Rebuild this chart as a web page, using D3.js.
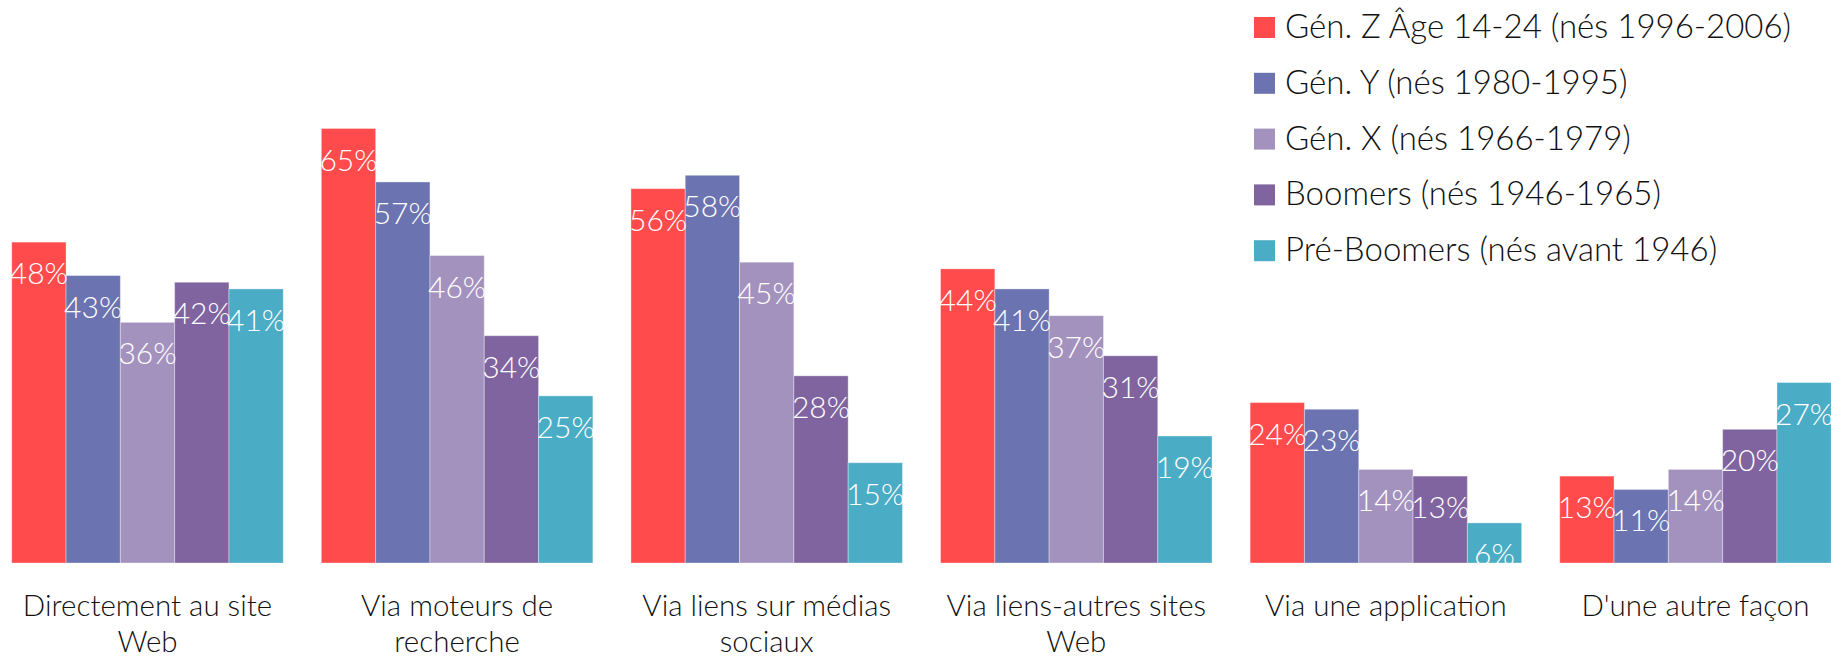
<!DOCTYPE html>
<html>
<head>
<meta charset="utf-8">
<script src="https://cdn.jsdelivr.net/npm/d3@7"></script>
<style>
  body { margin: 0; background: #fff; }
  svg text { font-family: Lato, "Open Sans", sans-serif; font-weight: 300; }
</style>
</head>
<body>
<div id="chart"></div>
<script>
// categories and series
var categories = ["Directement au site Web", "Via moteurs de recherche", "Via liens sur médias sociaux",
                  "Via liens-autres sites Web", "Via une application", "D'une autre façon"];
var seriesNames = ["Gén. Z Âge 14-24 (nés 1996-2006)", "Gén. Y (nés 1980-1995)", "Gén. X (nés 1966-1979)",
                   "Boomers (nés 1946-1965)", "Pré-Boomers (nés avant 1946)"];
var genZ = [48, 65, 56, 44, 24, 13];
var genY = [43, 57, 58, 41, 23, 11];
var genX = [36, 46, 45, 37, 14, 14];
var boomers = [42, 34, 28, 31, 13, 20];
var preBoomers = [41, 25, 15, 19, 6, 27];
var colors = ["#FF4B4B", "#6B74B0", "#A492BE", "#8064A0", "#4BACC6"];

function init() {
    var w = 1831, h = 656;
    var values = [genZ, genY, genX, boomers, preBoomers];

    var dataset = categories.map(function (c, i) {
        return { cat: c, vals: values.map(function (s, j) { return { key: j, v: s[i] }; }) };
    });

    var svg = d3.select("#chart").append("svg")
        .attr("width", w)
        .attr("height", h);

    // outer scale for the groups
    var x0 = d3.scaleBand()
        .domain(categories)
        .range([-7.3, 1850.3])
        .paddingInner(0.123)
        .paddingOuter(0.0615);

    // inner scale for the bars in a group
    var x1 = d3.scaleBand()
        .domain(d3.range(seriesNames.length))
        .range([0, x0.bandwidth()]);

    var y = d3.scaleLinear()
        .domain([0, 65])
        .range([563, 128.5]);

    var groups = svg.selectAll("g.grp")
        .data(dataset)
        .enter()
        .append("g")
        .attr("class", "grp")
        .attr("transform", function (d) { return "translate(" + x0(d.cat) + ",0)"; });

    groups.selectAll("rect")
        .data(function (d) { return d.vals; })
        .enter()
        .append("rect")
        .attr("x", function (d) { return x1(d.key); })
        .attr("y", function (d) { return y(d.v); })
        .attr("width", x1.bandwidth())
        .attr("height", function (d) { return y(0) - y(d.v); })
        .attr("fill", function (d) { return colors[d.key]; })
        .attr("stroke", "rgba(255,255,255,0.35)")
        .attr("stroke-width", 1);

    // value labels inside the top of each bar
    groups.selectAll("text.val")
        .data(function (d) { return d.vals; })
        .enter()
        .append("text")
        .attr("class", "val")
        .attr("x", function (d) { return x1(d.key) + x1.bandwidth() / 2; })
        .attr("y", function (d) { return y(d.v) + 42; })
        .attr("text-anchor", "middle")
        .attr("fill", "#fff")
        .style("font-size", "30px")
        .text(function (d) { return d.v + "%"; });

    // category labels, wrapped
    var catText = svg.selectAll("text.cat")
        .data(categories)
        .enter()
        .append("text")
        .attr("class", "cat")
        .attr("x", function (d) { return x0(d) + x0.bandwidth() / 2; })
        .attr("y", 616)
        .attr("text-anchor", "middle")
        .attr("fill", "#111")
        .style("font-size", "29.5px");

    catText.each(function (d) {
        var t = d3.select(this);
        var words = d.split(" "), line = [];
        var tspan = t.append("tspan").attr("x", t.attr("x")).attr("dy", 0);
        words.forEach(function (wd) {
            line.push(wd);
            tspan.text(line.join(" "));
            if (tspan.node().getComputedTextLength() > 295 && line.length > 1) {
                line.pop();
                tspan.text(line.join(" "));
                line = [wd];
                tspan = t.append("tspan").attr("x", t.attr("x")).attr("dy", 36).text(wd);
            }
        });
    });

    // legend
    var legend = svg.selectAll("g.leg")
        .data(seriesNames)
        .enter()
        .append("g")
        .attr("class", "leg")
        .attr("transform", function (d, i) { return "translate(1254," + (17 + i * 55.8) + ")"; });

    legend.append("rect")
        .attr("width", 21)
        .attr("height", 21)
        .attr("fill", function (d, i) { return colors[i]; });

    legend.append("text")
        .attr("x", 31)
        .attr("y", 21)
        .attr("fill", "#111")
        .style("font-size", "33px")
        .text(function (d) { return d; });
}

window.onload = init;
</script>
</body>
</html>
